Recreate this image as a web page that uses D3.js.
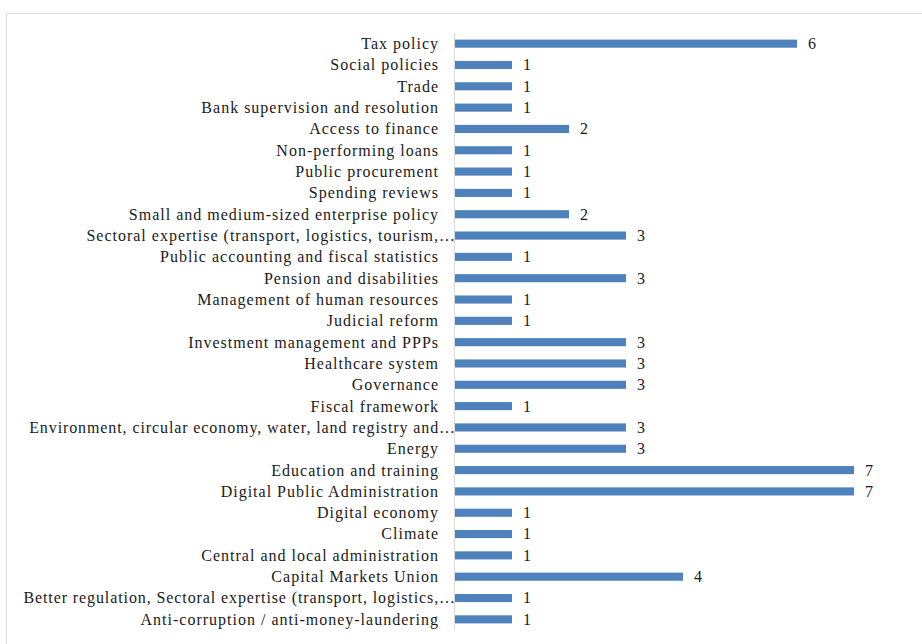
<!DOCTYPE html>
<html><head><meta charset="utf-8">
<script src="https://cdn.jsdelivr.net/npm/d3@7"></script>
<style>body{margin:0;background:#fff}svg{display:block}</style>
</head><body><svg id="c" width="922" height="644"></svg>
<script>
const categories = [
"Tax policy","Social policies","Trade","Bank supervision and resolution","Access to finance",
"Non-performing loans","Public procurement","Spending reviews","Small and medium-sized enterprise policy",
"Sectoral expertise (transport, logistics, tourism,…","Public accounting and fiscal statistics",
"Pension and disabilities","Management of human resources","Judicial reform","Investment management and PPPs",
"Healthcare system","Governance","Fiscal framework","Environment, circular economy, water, land registry and…",
"Energy","Education and training","Digital Public Administration","Digital economy","Climate",
"Central and local administration","Capital Markets Union",
"Better regulation, Sectoral expertise (transport, logistics,…","Anti-corruption / anti-money-laundering"];
const values = [6,1,1,1,2,1,1,1,2,3,1,3,1,1,3,3,3,1,3,3,7,7,1,1,1,4,1,1];

const FONT = "'Liberation Serif','Times New Roman',serif";
const svg = d3.select("#c");
svg.append("rect").attr("x",6.5).attr("y",13.5).attr("width",930).attr("height",640)
  .attr("fill","#fff").attr("stroke","#d9d9d9");

const y = d3.scaleBand().domain(categories).range([33,630]).paddingInner(0.62).paddingOuter(0.31);
const x = d3.scaleLinear().domain([0,7]).range([455,854]);

svg.append("line").attr("x1",454.5).attr("x2",454.5).attr("y1",33).attr("y2",630).attr("stroke","#d9d9d9");

svg.selectAll(".bar").data(categories).join("rect")
  .attr("x",x(0)).attr("y",d=>y(d)).attr("height",y.bandwidth())
  .attr("width",(d,i)=>x(values[i])-x(0)).attr("fill","#4f81bd");

svg.selectAll(".lbl").data(categories).join("text")
  .attr("x",d=>d.endsWith("…")?456:439).attr("y",d=>y(d)+y.bandwidth()/2).attr("dy","0.34em")
  .attr("text-anchor","end").attr("font-size",16).attr("fill","#1a1a1a")
  .style("font-family",FONT).style("letter-spacing",d=>d.length>55?"0.9px":"1px")
  .text(d=>d);

svg.selectAll(".val").data(categories).join("text")
  .attr("x",(d,i)=>x(values[i])+11).attr("y",d=>y(d)+y.bandwidth()/2).attr("dy","0.34em")
  .attr("font-size",16).attr("fill","#1a1a1a").style("font-family",FONT)
  .text((d,i)=>values[i]);
</script></body></html>
